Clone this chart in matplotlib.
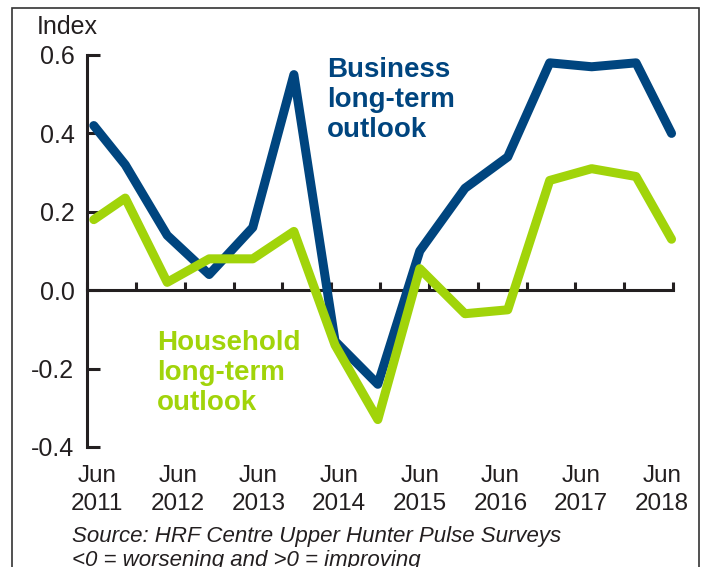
import numpy as np
import matplotlib
matplotlib.use('Agg')
import matplotlib.pyplot as plt
from matplotlib.patches import Rectangle

plt.rcParams['font.family'] = ['Liberation Sans', 'DejaVu Sans']

# survey dates (decimal years) and index values
survey_x = [2011.46, 2011.85, 2012.37, 2012.89, 2013.43, 2013.94, 2014.45, 2014.98,
            2015.50, 2016.06, 2016.59, 2017.11, 2017.63, 2018.18, 2018.62]
business = [0.42, 0.32, 0.14, 0.04, 0.16, 0.55, -0.13, -0.24,
            0.10, 0.26, 0.34, 0.58, 0.57, 0.58, 0.40]
household = [0.18, 0.235, 0.02, 0.08, 0.08, 0.15, -0.14, -0.33,
             0.055, -0.06, -0.05, 0.28, 0.31, 0.29, 0.13]

label_years = [2011, 2012, 2013, 2014, 2015, 2016, 2017, 2018]
y_ticks = [-0.4, -0.2, 0.0, 0.2, 0.4, 0.6]

navy = '#00457F'
lime = '#A1D40A'
ink = '#231F20'

W, H = 708, 567
fig = plt.figure(figsize=(W / 100, H / 100), dpi=100)
ax = fig.add_axes([87 / W, 1 - 447 / H, 586 / W, 392 / H])

x0, x1 = 2011.376, 2018.638
ax.set_xlim(x0, x1)
ax.set_ylim(-0.4, 0.6)

ax.plot(survey_x, business, color=navy, lw=6.5, solid_capstyle='round',
        solid_joinstyle='round', zorder=3, clip_on=False)
ax.plot(survey_x, household, color=lime, lw=6.5, solid_capstyle='round',
        solid_joinstyle='round', zorder=3, clip_on=False)

# axes styling
for s in ['top', 'right']:
    ax.spines[s].set_visible(False)
ax.spines['bottom'].set_position(('data', 0))
for s in ['left', 'bottom']:
    ax.spines[s].set_color(ink)
    ax.spines[s].set_linewidth(2.2)
    ax.spines[s].set_capstyle('projecting')

ax.set_yticks(y_ticks)
ax.set_yticklabels([f'{v:.1f}' for v in y_ticks])
ax.tick_params(axis='y', direction='in', length=9.5, width=2.2, color=ink,
               labelsize=18, labelcolor=ink, pad=9)
ax.set_xticks(np.linspace(x0, x1, 13))
ax.set_xticklabels([])
ax.tick_params(axis='x', direction='in', length=6, width=2.2, color=ink)

# category labels under the plot
for yr in label_years:
    ax.text(yr + 0.5, -0.0893, 'Jun', transform=ax.get_xaxis_transform(),
            ha='center', va='baseline', fontsize=17.5, color=ink)
    ax.text(yr + 0.5, -0.1607, str(yr), transform=ax.get_xaxis_transform(),
            ha='center', va='baseline', fontsize=17.5, color=ink)

fig.text(37 / W, 1 - 34 / H, 'Index', fontsize=18, color=ink, va='baseline')

# va='baseline' on multi-line text aligns the last line
fig.text(327 / W, 1 - 137 / H, 'Business\nlong-term\noutlook', fontsize=20,
         fontweight='bold', color=navy, va='baseline', linespacing=1.2)
fig.text(157 / W, 1 - 410 / H, 'Household\nlong-term\noutlook', fontsize=20,
         fontweight='bold', color=lime, va='baseline', linespacing=1.2)

fig.text(72 / W, 1 - 542 / H, 'Source: HRF Centre Upper Hunter Pulse Surveys',
         fontsize=16, style='italic', color=ink, va='baseline')
fig.text(72 / W, 1 - 566 / H, '<0 = worsening and >0 = improving',
         fontsize=16, style='italic', color=ink, va='baseline')

# outer frame
fig.patches.append(Rectangle((12 / W, -0.2), 687 / W, 1.2 - 8 / H,
                             transform=fig.transFigure, fill=False,
                             edgecolor='#333333', lw=1.2))

plt.savefig('out.png', dpi=100)
